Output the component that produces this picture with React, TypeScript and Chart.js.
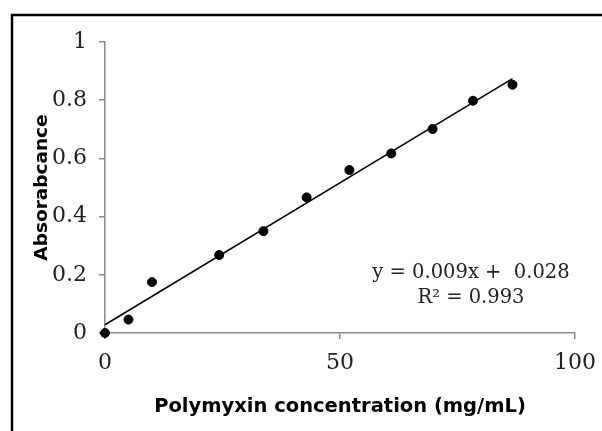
import React, { useEffect, useRef } from "react";
import { Chart, registerables } from "chart.js";

Chart.register(...registerables);

const concentration = [0, 5, 10, 24.3, 33.7, 42.9, 52, 60.9, 69.7, 78.3, 86.7];
const absorbance = [0, 0.046, 0.175, 0.268, 0.35, 0.466, 0.56, 0.617, 0.701, 0.798, 0.853];
const xTicks = [0, 50, 100];
const yTicks = [0, 0.2, 0.4, 0.6, 0.8, 1];
const xTitle = "Polymyxin concentration (mg/mL)";
const yTitle = "Absorabcance";
const equationLines = ["y = 0.009x +  0.028", "R² = 0.993"];

function fit(xs: number[], ys: number[]) {
  const n = xs.length;
  const mx = xs.reduce((a, b) => a + b, 0) / n;
  const my = ys.reduce((a, b) => a + b, 0) / n;
  let sxy = 0, sxx = 0;
  for (let i = 0; i < n; i++) {
    sxy += (xs[i] - mx) * (ys[i] - my);
    sxx += (xs[i] - mx) ** 2;
  }
  const m = sxy / sxx;
  return { m, b: my - m * mx };
}

const SERIF = "'DejaVu Serif', 'Liberation Serif', serif";
const SANS = "'DejaVu Sans', Verdana, sans-serif";
const AXIS_GRAY = "#8a8a8a";

const framePlugin = {
  id: "frame",
  beforeDraw(chart: any) {
    const ctx = chart.ctx;
    ctx.save();
    ctx.fillStyle = "#ffffff";
    ctx.fillRect(0, 0, chart.width, chart.height);
    ctx.restore();
  },
  afterDraw(chart: any) {
    const ctx = chart.ctx;
    const area = chart.chartArea;
    ctx.save();
    ctx.strokeStyle = "#000000";
    ctx.lineWidth = 2.5;
    ctx.beginPath();
    ctx.moveTo(12, chart.height + 2);
    ctx.lineTo(12, 15);
    ctx.lineTo(chart.width + 2, 15);
    ctx.stroke();
    // equation annotation
    ctx.fillStyle = "#222222";
    ctx.font = "19.5px " + SERIF;
    ctx.textAlign = "center";
    ctx.textBaseline = "middle";
    const cx = area.right - 104;
    ctx.fillText(equationLines[0], cx, area.bottom - 60);
    ctx.fillText(equationLines[1], cx, area.bottom - 35);
    ctx.restore();
  },
};

export default function App() {
  const ref = useRef<HTMLCanvasElement | null>(null);
  useEffect(() => {
    if (!ref.current) return;
    const { m, b } = fit(concentration, absorbance);
    const xMax = Math.max(...concentration);
    const chart = new Chart(ref.current, {
      type: "scatter",
      data: {
        datasets: [
          {
            type: "line",
            data: [
              { x: 0, y: b },
              { x: xMax, y: b + m * xMax },
            ],
            borderColor: "#000000",
            borderWidth: 1.5,
            pointRadius: 0,
            fill: false,
            clip: false as any,
          } as any,
          {
            data: concentration.map((x, i) => ({ x, y: absorbance[i] })),
            backgroundColor: "#000000",
            borderColor: "#000000",
            pointRadius: 4.5,
            pointHoverRadius: 4.5,
            clip: false as any,
          } as any,
        ],
      },
      options: {
        animation: false,
        responsive: false,
        maintainAspectRatio: false,
        layout: { padding: { left: 0, right: 27, top: 42, bottom: 0 } },
        plugins: { legend: { display: false }, tooltip: { enabled: false } },
        scales: {
          x: {
            type: "linear",
            min: 0,
            max: 100,
            afterBuildTicks: (s: any) => {
              s.ticks = xTicks.map((v) => ({ value: v }));
            },
            afterFit: (s: any) => {
              s.height = 98;
              s.paddingLeft = 0;
              s.paddingRight = 0;
            },
            border: { color: AXIS_GRAY, width: 1.5 },
            grid: { drawOnChartArea: false, drawTicks: true, tickLength: 6, color: AXIS_GRAY, lineWidth: 1.5 },
            ticks: { color: "#222222", font: { family: SERIF, size: 22 }, padding: 11, maxRotation: 0 },
            title: {
              display: true,
              text: xTitle,
              color: "#000000",
              font: { family: SANS, size: 19.5, weight: "bold" },
              padding: { top: 0, bottom: 12 },
            },
          },
          y: {
            type: "linear",
            min: 0,
            max: 1,
            afterBuildTicks: (s: any) => {
              s.ticks = yTicks.map((v) => ({ value: v }));
            },
            afterFit: (s: any) => {
              s.width = 105;
              s.paddingTop = 0;
              s.paddingBottom = 0;
            },
            border: { color: AXIS_GRAY, width: 1.5 },
            grid: { drawOnChartArea: false, drawTicks: true, tickLength: 6, color: AXIS_GRAY, lineWidth: 1.5 },
            ticks: {
              color: "#222222",
              font: { family: SERIF, size: 22 },
              padding: 12,
              callback: (v: any) => String(Math.round(Number(v) * 10) / 10),
            },
            title: {
              display: true,
              text: yTitle,
              color: "#000000",
              font: { family: SANS, size: 18.5, weight: "bold" },
              padding: { top: 31, bottom: 0 },
            },
          },
        },
      },
      plugins: [framePlugin],
    });
    return () => chart.destroy();
  }, []);
  return (
    <div style={{ position: "absolute", left: 0, top: 0, width: 602, height: 431 }}>
      <canvas ref={ref} width={602} height={431} style={{ display: "block" }} />
    </div>
  );
}
